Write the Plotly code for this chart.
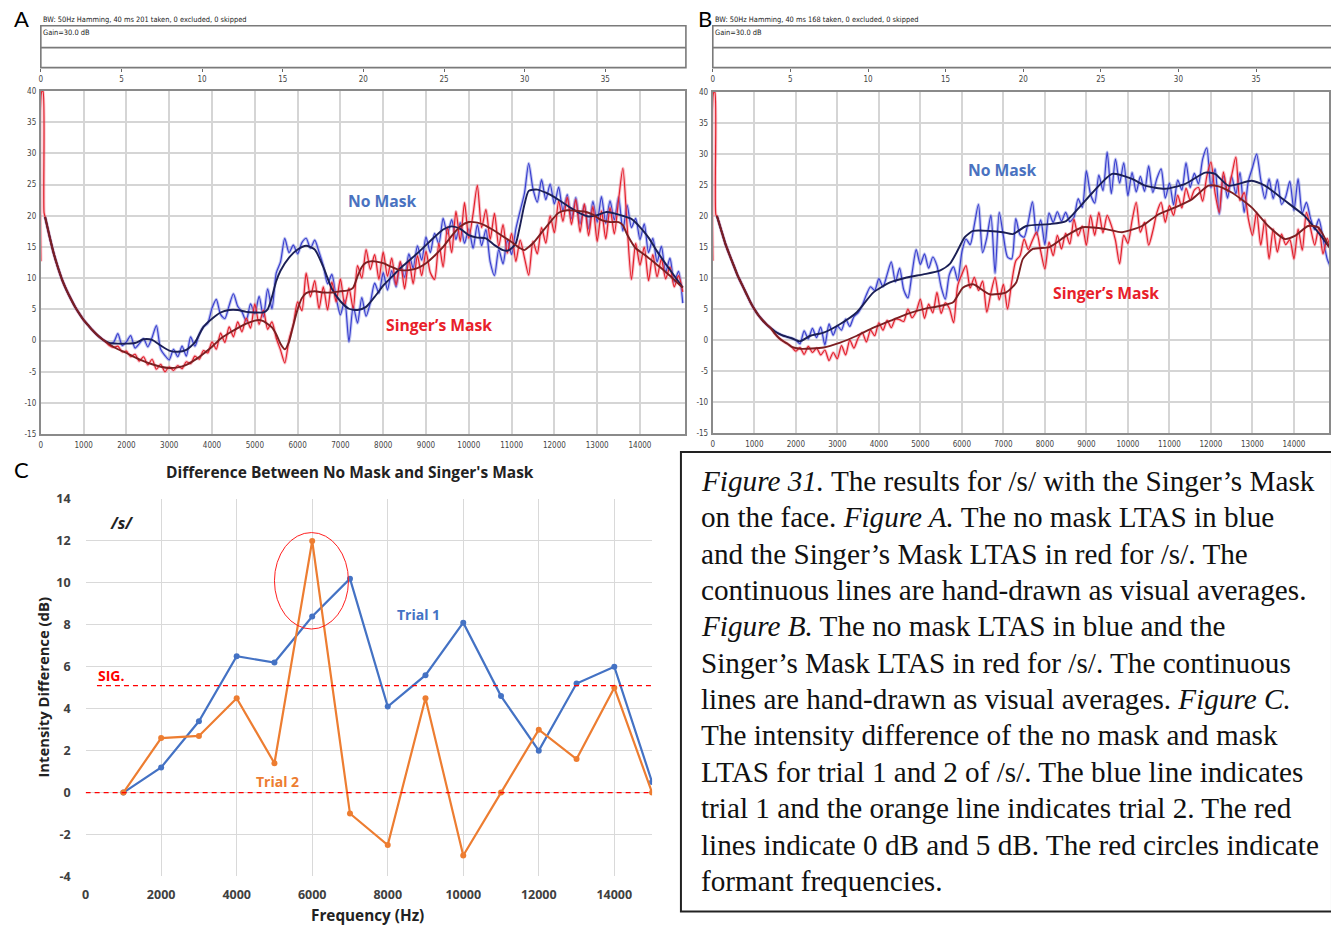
import plotly.graph_objects as go

W, H = 1331, 926
# vertical calibration of the rendered page (offset, usable height)
Y_OFF, Y_SPAN = 9.3, 910.3


def fx(x):
    return x / W


def fy(y):
    return 1 - (y - Y_OFF) / Y_SPAN


# ------------------------------------------------------------------
# Panel A : LTAS, trial 1 (dB vs Hz)
# ------------------------------------------------------------------
spike_freq = [0, 25, 50, 75]
spike_db_a = [12.7, 40, 40, 20.5]
spike_db_b = [12.8, 40, 40, 20.2]

decay_freq_a = [100, 200, 300, 400, 500, 600, 700, 800, 900, 1000,
                1100, 1200, 1300, 1400, 1500]
decay_db_a = [19.8, 16.8, 14.0, 11.7, 9.7, 8.1, 6.7, 5.4, 4.3, 3.3,
              2.5, 1.7, 1.0, 0.4, -0.1]

a_freq = list(range(1600, 15001, 100))
a_nomask = [
    -0.5, -0.3, 1.1, -0.8, -0.2, 0.8, -1.2, -0.5, 0.3, -1.0,
    0.5, 2.4, -1.4, -2.4, -3.1, -1.4, -2.6, -0.9, -2.5, 0.6,
    -0.9, 1.0, 2.2, 2.8, 5.2, 6.6, 4.2, 3.5, 5.6, 7.5,
    5.5, 4.6, 3.1, 5.9, 4.3, 7.1, 3.8, 8.3, 5.1, 10.8,
    12.6, 16.4, 14.1, 15.3, 13.9, 15.7, 16.4, 14.8, 16.1, 14.2,
    12.0, 9.1, 10.6, 6.9, 4.1, 6.5, -0.2, 5.5, 2.8, 6.9,
    3.9, 6.1, 9.2, 7.6, 10.9, 8.1, 11.2, 8.6, 12.5, 10.1,
    13.9, 11.6, 15.2, 12.9, 16.6, 14.1, 17.2, 15.5, 19.6, 17.1,
    19.4, 16.2, 18.9, 15.6, 17.9, 14.8, 18.6, 15.2, 17.8, 12.6,
    10.4, 14.6, 12.3, 16.1, 13.8, 17.9, 20.8, 23.6, 28.4, 24.3,
    22.2, 25.8, 22.6, 25.1, 21.9, 24.6, 20.8, 23.4, 19.5, 22.9,
    18.7, 21.8, 17.9, 22.3, 19.0, 23.1, 18.8, 22.4, 19.3, 23.0,
    17.6, 21.7, 18.1, 19.6, 16.2, 18.7, 14.1, 16.4, 12.6, 15.1,
    10.9, 13.2, 9.4, 11.1, 6.0,
]
a_mask = [
    -0.8, -1.1, -0.9, -1.8, -1.7, -2.6, -2.2, -3.3, -2.6, -3.9,
    -3.0, -4.6, -3.8, -5.0, -4.2, -4.8, -4.0, -4.5, -3.4, -3.7,
    -2.5, -3.0, -1.6, -2.0, -0.2, -1.4, 1.2, -0.3, 2.2, 0.6,
    3.0, 1.4, 3.6, 2.0, 5.9, 2.6, 4.9, 1.8, 3.0, 0.4,
    -1.5, -3.6, 0.2, 2.6, 6.2, 4.8, 10.8, 7.0, 9.6, 5.1,
    8.6, 4.9, 9.4, 6.2, 9.9, 5.7, 8.4, 5.1, 12.0, 10.0,
    14.6, 11.4, 13.8, 9.8, 14.2, 10.3, 13.2, 8.9, 12.7, 8.3,
    12.9, 9.1, 13.6, 10.4, 14.3, 10.9, 9.8, 15.6, 11.8, 18.2,
    14.1, 20.7, 15.9, 22.1, 16.4, 20.3, 24.9, 18.1, 21.0, 16.2,
    20.4, 15.1, 18.6, 14.0, 17.2, 12.7, 16.1, 13.3, 10.5, 15.9,
    13.9, 18.1, 15.6, 20.0, 17.3, 22.4, 19.1, 23.0, 18.6, 22.6,
    17.4, 21.9, 16.8, 21.5, 15.9, 20.8, 16.3, 21.3, 17.1, 22.6,
    27.6, 18.3, 9.8, 15.6, 12.1, 15.0, 9.6, 13.8, 10.2, 13.1,
    9.9, 11.8, 8.6, 10.4, 7.8,
]

# hand-drawn averages, panel A
a_nomask_avg_freq = [
    1600, 1800, 2000, 2200, 2400, 2600, 2800, 3000, 3200, 3400,
    3600, 3800, 4000, 4200, 4400, 4600, 4800, 5000, 5200, 5300,
    5400, 5500, 5600, 5800, 6000, 6200, 6400, 6600, 6800, 7000,
    7200, 7400, 7600, 7800, 8000, 8200, 8400, 8600, 8800, 9000,
    9200, 9400, 9600, 9800, 10000, 10200, 10400, 10600, 10800, 10900,
    11000, 11100, 11200, 11300, 11400, 11600, 11800, 12000, 12200, 12400,
    12600, 12800, 13000, 13200, 13400, 13600, 13800, 14000, 14200, 14400,
    14600, 14800, 15000,
]
a_nomask_avg = [
    -0.4, -0.5, -0.5, -0.4, 0.2, 0.1, -0.8, -1.6, -1.8, -1.5,
    -0.3, 2.2, 3.5, 4.5, 4.9, 4.9, 4.6, 4.5, 4.5, 5.0,
    7.0, 9.5, 11.2, 13.3, 14.6, 15.2, 14.6, 11.8, 8.3, 6.3,
    5.1, 4.9, 5.4, 7.0, 8.8, 10.2, 11.6, 12.8, 14.0, 15.3,
    16.6, 17.8, 18.3, 17.9, 16.9, 16.5, 16.4, 15.3, 14.5, 14.4,
    14.8, 15.6, 18.5, 21.8, 24.0, 24.2, 23.7, 23.0, 22.1, 21.2,
    20.4, 19.9, 20.1, 20.6, 20.4, 20.0, 19.5, 18.2, 16.5, 14.3,
    12.3, 10.4, 8.5,
]
a_mask_avg_freq = [
    1600, 1800, 2000, 2200, 2400, 2600, 2800, 3000, 3200, 3400,
    3600, 3800, 4000, 4200, 4400, 4600, 4800, 5000, 5100, 5200,
    5400, 5500, 5600, 5700, 5800, 5900, 6000, 6100, 6200, 6400,
    6600, 6800, 7000, 7200, 7300, 7400, 7500, 7600, 7700, 7800,
    8000, 8200, 8400, 8600, 8800, 9000, 9200, 9400, 9600, 9800,
    10000, 10200, 10400, 10600, 10800, 11000, 11200, 11300, 11400, 11500,
    11700, 11900, 12100, 12300, 12500, 12700, 12900, 13100, 13300, 13500,
    13600, 13700, 13900, 14100, 14300, 14500, 14700, 14900, 15000,
]
a_mask_avg = [
    -0.6, -1.4, -2.0, -2.7, -3.3, -3.8, -4.2, -4.4, -4.3, -3.9,
    -3.1, -2.1, -1.0, 0.3, 1.2, 2.0, 2.7, 3.2, 3.3, 3.1,
    2.1, 1.0, -0.5, -1.4, -0.2, 2.5, 5.0, 6.8, 7.6, 7.9,
    7.7, 7.7, 7.9, 8.1, 8.5, 10.3, 11.8, 12.5, 12.7, 12.7,
    12.4, 11.8, 11.3, 11.3, 11.6, 12.4, 13.6, 15.0, 16.8, 18.3,
    19.0, 18.9, 18.4, 17.6, 16.7, 15.8, 14.8, 14.5, 15.0, 15.6,
    17.3, 19.0, 20.5, 20.9, 20.8, 20.7, 20.2, 19.3, 19.0, 19.0,
    18.5, 17.0, 14.8, 13.8, 12.7, 11.6, 10.4, 9.1, 8.5,
]

# ------------------------------------------------------------------
# Panel B : LTAS, trial 2
# ------------------------------------------------------------------
decay_freq_b = [100, 200, 300, 400, 500, 600, 700, 800, 900, 1000,
                1100, 1200, 1300, 1400, 1500, 1600, 1700, 1800, 1900]
decay_nomask_b = [20.0, 17.8, 15.6, 13.8, 12.1, 10.4, 9.0, 7.6, 6.2, 5.0,
                  4.0, 3.2, 2.5, 1.9, 1.4, 1.0, 0.7, 0.5, 0.3]
decay_mask_b = [20.0, 17.8, 15.6, 13.8, 12.1, 10.4, 9.0, 7.6, 6.2, 5.0,
                4.0, 3.2, 2.5, 1.9, 1.0, 0.3, -0.2, -0.6, -1.1]

b_freq = list(range(2000, 14901, 100))
b_nomask = [
    0.0, -0.6, 1.5, 0.2, 1.9, 0.4, 2.1, -0.8, 2.6, 0.8,
    2.3, 1.6, 3.4, 2.2, 3.8, 4.4, 5.6, 7.3, 8.6, 8.0,
    9.9, 8.6, 10.6, 12.6, 9.4, 11.6, 8.1, 6.8, 10.8, 14.6,
    12.2, 13.9, 11.6, 13.4, 12.0, 8.6, 6.6, 10.6, 11.8, 9.6,
    14.2, 16.3, 15.4, 18.6, 21.9, 14.1, 16.5, 20.1, 10.8, 20.6,
    16.8, 13.4, 13.1, 19.6, 17.0, 16.6, 19.1, 22.3, 17.0, 19.4,
    15.4, 20.5, 19.0, 20.7, 19.2, 20.6, 19.1, 19.8, 22.8, 21.4,
    27.3, 23.5, 22.1, 26.6, 24.1, 30.3, 23.6, 29.2, 25.3, 28.6,
    23.3, 27.0, 23.9, 26.4, 24.0, 28.1, 23.8, 26.1, 27.6, 22.9,
    25.3, 21.8, 25.8, 24.2, 28.6, 24.6, 26.9, 25.2, 29.2, 31.0,
    24.6, 27.6, 20.3, 26.5, 22.9, 26.4, 23.6, 27.0, 20.6, 25.6,
    27.8, 30.0, 25.9, 22.8, 26.0, 22.8, 25.9, 21.9, 23.1, 25.6,
    20.9, 26.0, 20.5, 22.2, 19.6, 17.8, 19.5, 16.4, 13.1, 11.5,
]
b_mask = [
    -1.8, -1.2, -2.3, -1.0, -2.0, -1.3, -2.4, -1.6, -3.3, -2.0,
    -3.0, -0.9, -2.4, 0.0, -1.3, 0.3, 1.2, -0.3, 1.6, 0.7,
    2.8, 1.6, 3.2, 2.0, 3.4, 3.3, 3.0, 5.0, 3.6, 4.6,
    6.6, 3.5, 5.8, 4.4, 7.7, 4.3, 6.0, 5.1, 2.8, 8.8,
    10.6, 12.0, 8.4, 10.1, 8.0, 9.5, 4.5, 7.6, 10.1, 6.5,
    9.0, 5.0, 9.3, 12.8, 13.6, 16.3, 14.6, 16.1, 17.4, 14.3,
    11.5, 15.8, 13.6, 16.9, 14.7, 17.2, 15.5, 19.5, 16.8, 18.4,
    15.3, 20.1, 16.9, 20.6, 17.3, 20.1, 18.5, 16.1, 12.3, 16.9,
    15.6, 19.3, 22.2, 17.4, 19.0, 15.3, 17.6, 20.6, 22.2, 19.0,
    21.7, 20.1, 23.4, 21.3, 24.5, 22.6, 24.2, 24.6, 22.4, 26.4,
    28.7, 23.7, 20.6, 27.1, 24.0, 26.6, 29.5, 22.5, 23.8, 19.6,
    16.9, 20.6, 15.3, 19.4, 13.1, 17.9, 14.2, 17.1, 15.4, 16.2,
    13.1, 17.9, 14.5, 20.6, 18.0, 15.3, 18.2, 13.9, 16.4, 14.0,
]

b_nomask_avg_freq = [
    2100, 2350, 2670, 3070, 3470, 3870, 4270, 4670, 5070, 5470,
    5710, 5870, 6070, 6270, 6670, 6990, 7230, 7550, 8110, 8510,
    8830, 9150, 9620, 10100, 10420, 10900, 11380, 11860, 12100, 12420,
    12980, 13300, 13780, 14260, 14580, 14850,
]
b_nomask_avg = [
    -0.2, 0.7, 1.2, 2.6, 4.5, 7.7, 9.3, 10.1, 10.6, 11.2,
    12.3, 14.1, 16.6, 17.6, 17.6, 17.4, 17.1, 18.4, 18.7, 19.2,
    21.4, 23.8, 26.8, 26.0, 24.9, 24.4, 25.2, 27.0, 26.8, 24.9,
    25.7, 24.9, 22.5, 20.0, 17.4, 15.0,
]
b_mask_avg_freq = [
    2110, 2670, 3070, 3470, 3870, 4270, 4670, 5070, 5470, 5790,
    6030, 6270, 6670, 7070, 7310, 7470, 7710, 8110, 8510, 8910,
    9470, 9860, 10340, 10740, 11140, 11540, 11940, 12180, 12500, 12980,
    13380, 13780, 14020, 14340, 14580, 14850,
]
b_mask_avg = [
    -1.4, -1.2, -0.4, 0.7, 2.0, 3.1, 4.2, 5.0, 5.5, 6.1,
    8.5, 9.0, 7.4, 7.7, 9.3, 13.1, 14.7, 15.0, 16.8, 18.2,
    17.9, 17.4, 18.4, 20.3, 21.4, 22.7, 24.9, 24.8, 23.8, 21.4,
    18.4, 16.3, 16.8, 18.4, 18.2, 15.0,
]

# ------------------------------------------------------------------
# Panel C : difference between no mask and Singer's Mask
# ------------------------------------------------------------------
c_freq = [1000, 2000, 3000, 4000, 5000, 6000, 7000, 8000,
          9000, 10000, 11000, 12000, 13000, 14000, 15000]
trial1 = [0.0, 1.2, 3.4, 6.5, 6.2, 8.4, 10.2, 4.1,
          5.6, 8.1, 4.6, 2.0, 5.2, 6.0, 0.5]
trial2 = [0.0, 2.6, 2.7, 4.5, 1.4, 12.0, -1.0, -2.5,
          4.5, -3.0, 0.0, 3.0, 1.6, 5.0, 0.0]
sig_level = 5.1
zero_level = 0.0

caption_lines = [
    "<i>Figure 31.</i> The results for /s/ with the Singer\u2019s Mask",
    "on the face. <i>Figure A.</i> The no mask LTAS in blue",
    "and the Singer\u2019s Mask LTAS in red for /s/. The",
    "continuous lines are hand-drawn as visual averages.",
    "<i>Figure B.</i> The no mask LTAS in blue and the",
    "Singer\u2019s Mask LTAS in red for /s/. The continuous",
    "lines are hand-drawn as visual averages. <i>Figure C.</i>",
    "The intensity difference of the no mask and mask",
    "LTAS for trial 1 and 2 of /s/. The blue line indicates",
    "trial 1 and the orange line indicates trial 2. The red",
    "lines indicate 0 dB and 5 dB. The red circles indicate",
    "formant frequencies.",
]

# ------------------------------------------------------------------
NARROW = "Liberation Sans Narrow, Arial Narrow, DejaVu Sans Condensed, sans-serif"
SANS = "Open Sans, Lato, sans-serif"
BLUE_N = "#3a3fcf"
BLUE_HALO = "rgba(120,130,225,0.45)"
RED_N = "#e3202a"
RED_HALO = "rgba(240,120,140,0.45)"
NAVY = "#1b1f55"
MAROON = "#7c1f22"

fig = go.Figure()


def add_ltas(xa, ya, freq, vals, color, halo):
    fig.add_trace(go.Scatter(x=freq, y=vals, xaxis=xa, yaxis=ya, mode="lines",
                             line=dict(color=halo, width=3.2, shape="spline", smoothing=0.7),
                             hoverinfo="skip", showlegend=False))
    fig.add_trace(go.Scatter(x=freq, y=vals, xaxis=xa, yaxis=ya, mode="lines",
                             line=dict(color=color, width=1.2, shape="spline", smoothing=0.7),
                             hoverinfo="skip", showlegend=False))


def add_avg(xa, ya, freq, vals, color):
    fig.add_trace(go.Scatter(x=freq, y=vals, xaxis=xa, yaxis=ya, mode="lines",
                             line=dict(color=color, width=1.9, shape="spline", smoothing=0.6),
                             hoverinfo="skip", showlegend=False))


# Panel A
add_ltas("x", "y", decay_freq_a + a_freq, decay_db_a + a_nomask, BLUE_N, BLUE_HALO)
add_ltas("x", "y", spike_freq + decay_freq_a + a_freq, spike_db_a + decay_db_a + a_mask,
         RED_N, RED_HALO)
add_avg("x", "y", decay_freq_a + a_nomask_avg_freq, decay_db_a + a_nomask_avg, NAVY)
add_avg("x", "y", decay_freq_a + a_mask_avg_freq, decay_db_a + a_mask_avg, MAROON)

# Panel B
add_ltas("x3", "y3", decay_freq_b + b_freq, decay_nomask_b + b_nomask, BLUE_N, BLUE_HALO)
add_ltas("x3", "y3", spike_freq + decay_freq_b + b_freq, spike_db_b + decay_mask_b + b_mask,
         RED_N, RED_HALO)
add_avg("x3", "y3", decay_freq_b + b_nomask_avg_freq, decay_nomask_b + b_nomask_avg, NAVY)
add_avg("x3", "y3", decay_freq_b + b_mask_avg_freq, decay_mask_b + b_mask_avg, MAROON)

# placeholder traces so the time-strip axes render
for xa, ya in (("x2", "y2"), ("x4", "y4")):
    fig.add_trace(go.Scatter(x=[0], y=[0], xaxis=xa, yaxis=ya, mode="markers",
                             marker=dict(opacity=0), hoverinfo="skip", showlegend=False))

# Panel C
fig.add_trace(go.Scatter(x=c_freq, y=trial1, xaxis="x5", yaxis="y5", mode="lines+markers",
                         line=dict(color="#4472C4", width=2.2),
                         marker=dict(color="#4472C4", size=6),
                         hoverinfo="skip", showlegend=False))
fig.add_trace(go.Scatter(x=c_freq, y=trial2, xaxis="x5", yaxis="y5", mode="lines+markers",
                         line=dict(color="#ED7D31", width=2.2),
                         marker=dict(color="#ED7D31", size=6),
                         hoverinfo="skip", showlegend=False))

# ---------------- axes ----------------
ltas_tick_font = dict(family=NARROW, size=8, color="#444")
khz_ticks = list(range(0, 15000, 1000))
db_ticks = list(range(-15, 41, 5))


def ltas_axes(xdom, ydom, xmax):
    xa = dict(domain=xdom, range=[0, xmax], tickvals=khz_ticks,
              ticktext=[str(v) for v in khz_ticks], tickfont=ltas_tick_font,
              showgrid=True, gridcolor="#d5d5d5", gridwidth=1.6,
              showline=True, linecolor="#8a8a8a", linewidth=2, mirror=True,
              zeroline=False, ticks="", ticklabelstandoff=2, fixedrange=True)
    ya = dict(domain=ydom, range=[-15, 40], tickvals=db_ticks,
              ticktext=[str(v) for v in db_ticks], tickfont=ltas_tick_font,
              showgrid=True, gridcolor="#d5d5d5", gridwidth=1.6,
              showline=True, linecolor="#8a8a8a", linewidth=2, mirror=True,
              zeroline=False, ticks="", ticklabelstandoff=1, fixedrange=True)
    return xa, ya


def strip_axes(xdom, xmax):
    xa = dict(domain=xdom, range=[0, xmax], tickvals=list(range(0, 40, 5)),
              tickfont=ltas_tick_font, showgrid=False, showline=False,
              zeroline=False, ticks="outside", ticklen=3, tickcolor="#666",
              ticklabelstandoff=1, fixedrange=True)
    ya = dict(domain=[fy(68), fy(26)], range=[0, 1], visible=False, fixedrange=True)
    return xa, ya


xa1, ya1 = ltas_axes([fx(37), fx(684)], [fy(435), fy(91.5)], 15050)
xa3, ya3 = ltas_axes([fx(712), 1.0], [fy(434), fy(92.5)], 14844)
xa2, ya2 = strip_axes([fx(37), fx(685)], 40)
xa4, ya4 = strip_axes([fx(712), 1.0], 39.7)
ya1["anchor"] = "x"
xa1["anchor"] = "y"
xa3["anchor"] = "y3"
ya3["anchor"] = "x3"
xa2["anchor"] = "y2"
xa4["anchor"] = "y4"

c_tick_font = dict(family=SANS, size=12.5, color="#404040")
xa5 = dict(domain=[fx(82), fx(651)], range=[0, 15000], anchor="y5",
           tickvals=list(range(0, 15000, 2000)),
           ticktext=["<b>%d</b>" % v for v in range(0, 15000, 2000)],
           tickfont=c_tick_font, showgrid=True, gridcolor="#d9d9d9", gridwidth=1,
           showline=False, zeroline=False, ticks="", ticklabelstandoff=9, fixedrange=True)
ya5 = dict(domain=[fy(878), fy(500)], range=[-4, 14], anchor="x5",
           tickvals=list(range(-4, 15, 2)),
           ticktext=["<b>%d</b>" % v for v in range(-4, 15, 2)],
           tickfont=c_tick_font, showgrid=True, gridcolor="#d9d9d9", gridwidth=1,
           showline=False, zeroline=False, ticks="", ticklabelstandoff=14, fixedrange=True)

fig.update_layout(
    width=W, height=H, autosize=False,
    margin=dict(l=0, r=0, t=0, b=0, pad=0),
    paper_bgcolor="white", plot_bgcolor="white",
    showlegend=False,
    xaxis=xa1, yaxis=ya1, xaxis2=xa2, yaxis2=ya2,
    xaxis3=xa3, yaxis3=ya3, xaxis4=xa4, yaxis4=ya4,
    xaxis5=xa5, yaxis5=ya5,
)

# ---------------- shapes ----------------
shapes = []
for x0, x1 in ((37, 685), (712, 1340)):
    shapes.append(dict(type="rect", xref="paper", yref="paper",
                       x0=fx(x0), x1=fx(x1), y0=fy(68), y1=fy(26),
                       line=dict(color="#7a7a7a", width=1.6)))
    shapes.append(dict(type="line", xref="paper", yref="paper",
                       x0=fx(x0), x1=fx(x1), y0=fy(48), y1=fy(48),
                       line=dict(color="#7a7a7a", width=1.6)))

# significance and zero reference lines
shapes.append(dict(type="line", xref="x5", yref="y5", x0=300, x1=15100,
                   y0=sig_level, y1=sig_level,
                   line=dict(color="#FF0000", width=1.3, dash="5px,4px")))
shapes.append(dict(type="line", xref="x5", yref="y5", x0=0, x1=15100,
                   y0=zero_level, y1=zero_level,
                   line=dict(color="#FF0000", width=1.3, dash="5px,4px")))
# formant circle
shapes.append(dict(type="circle", xref="x5", yref="y5", x0=5000, x1=6960,
                   y0=7.8, y1=12.4, line=dict(color="#FF2020", width=1)))
# caption frame
shapes.append(dict(type="rect", xref="paper", yref="paper",
                   x0=fx(680), x1=fx(1334), y0=fy(913), y1=fy(453),
                   line=dict(color="#222", width=2)))
fig.update_layout(shapes=shapes)

# ---------------- annotations ----------------
ann = []


def text(x, y, s, size, color="#000", family=SANS, xanchor="center", angle=0):
    ann.append(dict(x=fx(x), y=fy(y), xref="paper", yref="paper", text=s,
                    showarrow=False, xanchor=xanchor, yanchor="middle",
                    textangle=angle,
                    font=dict(family=family, size=size, color=color)))


text(18, 19, "A", 22, family="Lato, sans-serif")
text(704, 19, "B", 22, family="Lato, sans-serif")
text(18, 470, "C", 22, family="Lato, sans-serif")

text(37, 20, "BW: 50Hz Hamming, 40 ms 201 taken, 0 excluded, 0 skipped", 7.4,
     color="#222", family=NARROW, xanchor="left")
text(37, 33, "Gain=30.0 dB", 7.4, color="#222", family=NARROW, xanchor="left")
text(712, 20, "BW: 50Hz Hamming, 40 ms 168 taken, 0 excluded, 0 skipped", 7.4,
     color="#222", family=NARROW, xanchor="left")
text(712, 33, "Gain=30.0 dB", 7.4, color="#222", family=NARROW, xanchor="left")

text(380, 202, "<b>No Mask</b>", 15.7, color="#4a72c0")
text(437, 326, "<b>Singer\u2019s Mask</b>", 15.7, color="#e8202a")
text(1003, 171, "<b>No Mask</b>", 15.7, color="#4a72c0")
text(1107, 294, "<b>Singer\u2019s Mask</b>", 15.7, color="#e8202a")

text(348, 473, "<b>Difference Between No Mask and Singer's Mask</b>", 15.5, color="#222")
text(118, 524, "<b><i>/s/</i></b>", 16, color="#222")
text(107, 677, "<b>SIG.</b>", 14, color="#FF0000")
text(416, 616, "<b>Trial 1</b>", 14, color="#4472C4")
text(275, 783, "<b>Trial 2</b>", 14, color="#ED7D31")
text(39, 689, "<b>Intensity Difference (dB)</b>", 14.8, color="#222", angle=-90)
text(365, 917, "<b>Frequency (Hz)</b>", 15.3, color="#222")

line_y0, line_step = 482, 36.4
for i, line in enumerate(caption_lines):
    text(698, line_y0 + i * line_step, line, 29.2, color="#111",
         family="Liberation Serif, Times New Roman, serif", xanchor="left")

fig.update_layout(annotations=ann)

fig.write_html("out.html")
